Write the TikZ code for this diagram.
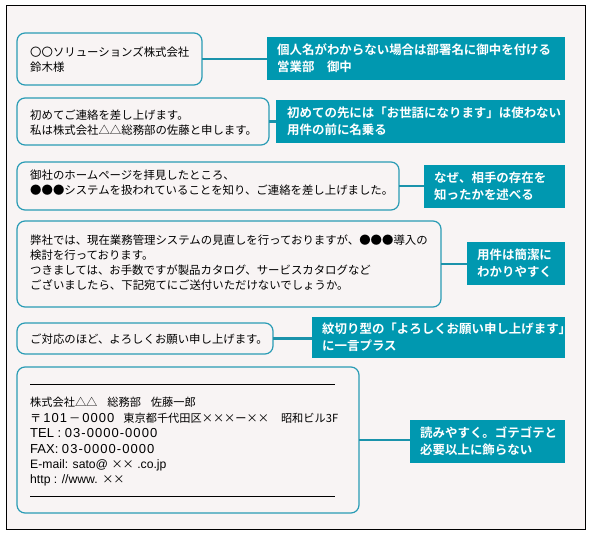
\documentclass[tikz,border=0pt]{standalone}
\usepackage{fontspec}
\setmainfont{Noto Sans CJK JP}
\newfontfamily\jpfont{Noto Sans CJK JP}
\newfontfamily\jpbold{Noto Sans CJK JP Bold}
\newfontfamily\latf{Liberation Sans}
\newfontfamily\numfam[LetterSpace=8]{Liberation Sans}
\newcommand{\lt}[1]{{\latf\fontsize{13}{15.4}\selectfont #1}}
\newcommand{\ls}[1]{{\latf\fontsize{12.2}{15.4}\selectfont #1}}
\newcommand{\nm}[1]{{\numfam\fontsize{13}{15.4}\selectfont #1}}
\begin{document}
\begin{tikzpicture}[x=1pt,y=-1pt,
  msgbox/.style={draw=boxc,line width=1.2pt,rounded corners=8pt,fill=bgc,anchor=north west,inner sep=0pt,outer sep=0pt},
  msgtext/.style={anchor=west,align=left,inner sep=0pt,font=\jpfont\fontsize{11.4}{15}\selectfont,text=black},
  labelbox/.style={fill=labc,anchor=north west,inner sep=0pt,outer sep=0pt},
  labtext/.style={anchor=west,align=left,inner sep=0pt,font=\jpbold\fontsize{12.45}{17}\selectfont,text=white},
  conn/.style={draw=connc,line width=2.8pt},
  rule/.style={draw=black,line width=1pt}]
\definecolor{bgc}{HTML}{F8F4F4}
\definecolor{boxc}{HTML}{2A9CB5}
\definecolor{labc}{HTML}{0098B0}
\definecolor{connc}{HTML}{1B93AB}
\useasboundingbox (0,0) rectangle (590,534);
\fill[white] (0,0) rectangle (590,534);
\draw[fill=bgc,line width=1pt] (6,6) rectangle (585,530);

% message boxes
\node[msgbox,minimum width=185pt,minimum height=52pt] (b1) at (17,33) {};
\node[msgbox,minimum width=252pt,minimum height=47pt] (b2) at (17,98) {};
\node[msgbox,minimum width=382pt,minimum height=48pt] (b3) at (17,162) {};
\node[msgbox,minimum width=424pt,minimum height=86pt] (b4) at (17,221) {};
\node[msgbox,minimum width=256pt,minimum height=31pt] (b5) at (17,323) {};
\node[msgbox,minimum width=342pt,minimum height=146pt] (b6) at (17,367) {};

\node[msgtext] (t1) at (30,60) {〇〇ソリューションズ株式会社\\鈴木様};
\node[msgtext] (t2) at (30,123) {初めてご連絡を差し上げます。\\私は株式会社△△総務部の佐藤と申します。};
\node[msgtext] (t3) at (30,183) {御社のホームページを拝見したところ、\\●●●システムを扱われていることを知り、ご連絡を差し上げました。};
\node[msgtext] (t4) at (30,263) {弊社では、現在業務管理システムの見直しを行っておりますが、●●●導入の\\検討を行っております。\\つきましては、お手数ですが製品カタログ、サービスカタログなど\\ございましたら、下記宛てにご送付いただけないでしょうか。};
\node[msgtext] (t5) at (30,339) {ご対応のほど、よろしくお願い申し上げます。};
\node[msgtext,font=\jpfont\fontsize{11.2}{15.4}\selectfont] (t6) at (30,442) {株式会社△△\hspace{10pt}総務部\hspace{10pt}佐藤一郎\\〒\hspace{2pt}\nm{101}\hspace{2pt}－\hspace{2pt}\nm{0000}\hspace{9pt}東京都千代田区×××ー××\hspace{12pt}昭和ビル3F\\\lt{TEL : }\nm{03-0000-0000}\\\lt{FAX: }\nm{03-0000-0000}\\\ls{E-mail: sato@ }××\ls{ .co.jp}\\\ls{http : //www. }××};
\coordinate (r1a) at (30,385); \coordinate (r1b) at (335,385);
\coordinate (r2a) at (30,497); \coordinate (r2b) at (335,497);
\draw[rule] (r1a) -- (r1b);
\draw[rule] (r2a) -- (r2b);

% labels
\node[labelbox,minimum width=298pt,minimum height=43pt] (l1) at (267,37) {};
\node[labelbox,minimum width=289pt,minimum height=43pt] (l2) at (276,100) {};
\node[labelbox,minimum width=141pt,minimum height=43pt] (l3) at (424,165) {};
\node[labelbox,minimum width=98pt,minimum height=43pt] (l4) at (467,242) {};
\node[labelbox,minimum width=253pt,minimum height=41pt] (l5) at (312,317) {};
\node[labelbox,minimum width=155pt,minimum height=43pt] (l6) at (410,420) {};

\node[labtext] (lt1) at (277,58.5) {個人名がわからない場合は部署名に御中を付ける\\営業部　御中};
\node[labtext] (lt2) at (287,121.5) {初めての先には「お世話になります」は使わない\\用件の前に名乗る};
\node[labtext] (lt3) at (434,186.5) {なぜ、相手の存在を\\知ったかを述べる};
\node[labtext] (lt4) at (477,263.5) {用件は簡潔に\\わかりやすく};
\node[labtext] (lt5) at (322,337.5) {紋切り型の「よろしくお願い申し上げます」\\に一言プラス};
\node[labtext] (lt6) at (420,441.5) {読みやすく。ゴテゴテと\\必要以上に飾らない};

% connectors
\draw[conn] (b1.east) -- (b1.east -| l1.west);
\draw[conn] (b2.east) -- (b2.east -| l2.west);
\draw[conn] (b3.east) -- (b3.east -| l3.west);
\draw[conn] (b4.east) -- (b4.east -| l4.west);
\draw[conn] (b5.east) -- (b5.east -| l5.west);
\draw[conn] (b6.east) -- (b6.east -| l6.west);
\end{tikzpicture}
\end{document}
